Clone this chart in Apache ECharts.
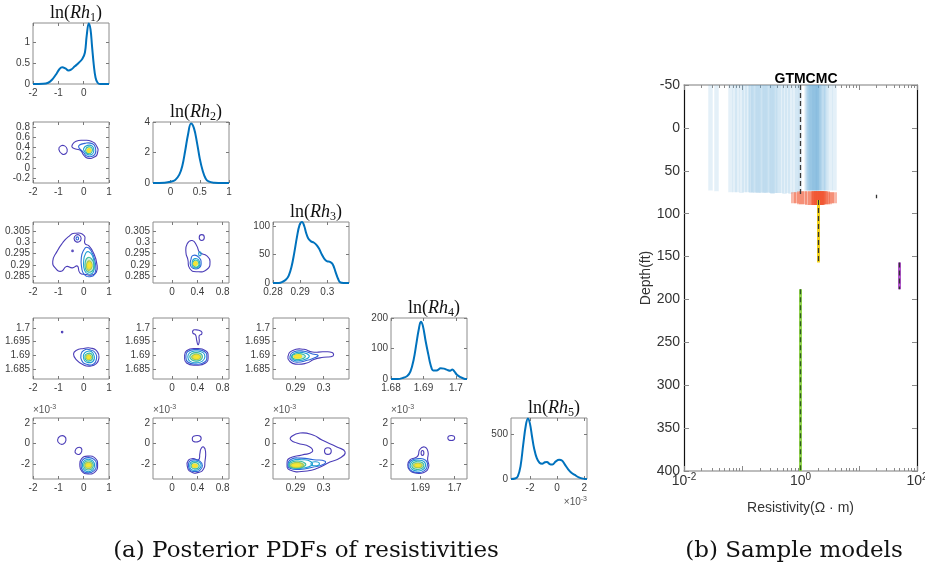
<!DOCTYPE html>
<html>
<head>
<meta charset="utf-8">
<script src="https://cdn.jsdelivr.net/npm/echarts@6/dist/echarts.min.js"></script>
<style>
  html, body { margin: 0; background: #fff; }
  #chart { width: 925px; height: 576px; }
</style>
</head>
<body>
<div id="chart"></div>
<script>
// ---- marginal posteriors (diagonal) ----
const pdfRh1 = [[-2,0],[-1.6,0.005],[-1.4,0.03],[-1.25,0.1],[-1.1,0.22],[-0.95,0.36],[-0.85,0.4],[-0.72,0.37],[-0.6,0.32],[-0.5,0.34],[-0.35,0.42],[-0.2,0.5],[-0.05,0.6],[0.05,0.75],[0.12,1.15],[0.2,1.44],[0.27,1.3],[0.33,0.9],[0.4,0.45],[0.47,0.15],[0.55,0.03],[0.65,0],[1,0]]
const pdfRh2 = [[-0.3,0],[-0.1,0.02],[0,0.08],[0.08,0.2],[0.15,0.55],[0.2,1.1],[0.25,2.1],[0.3,3.2],[0.35,3.9],[0.4,3.6],[0.45,2.7],[0.5,1.6],[0.55,0.8],[0.6,0.3],[0.65,0.1],[0.75,0.02],[0.9,0],[1,0]]
const pdfRh3 = [[0.28,0],[0.2822,0],[0.2835,2],[0.2848,6],[0.2858,13],[0.2868,28],[0.2878,52],[0.2888,80],[0.2898,102],[0.2907,107],[0.2915,100],[0.2922,88],[0.293,78],[0.294,73],[0.295,71],[0.296,67],[0.297,60],[0.298,50],[0.299,42],[0.3,38],[0.301,37],[0.302,33],[0.303,20],[0.304,7],[0.3048,1],[0.306,0],[0.308,0]]
const pdfRh4 = [[1.68,0],[1.682,0],[1.6835,3],[1.685,10],[1.686,25],[1.687,65],[1.6878,115],[1.6885,160],[1.6892,188],[1.6898,175],[1.6907,122],[1.6915,80],[1.6922,46],[1.693,28],[1.694,28],[1.6953,35],[1.6963,34],[1.6973,30],[1.6982,27],[1.6989,31],[1.6995,25],[1.7003,14],[1.7014,6],[1.7025,1],[1.7034,0]]
const pdfRh5 = [[-3.4,0],[-3.1,5],[-2.9,30],[-2.7,140],[-2.5,380],[-2.3,600],[-2.15,670],[-2.0,610],[-1.85,470],[-1.7,340],[-1.5,230],[-1.3,180],[-1.1,170],[-0.9,185],[-0.75,188],[-0.55,165],[-0.35,160],[-0.1,195],[0.15,212],[0.35,205],[0.55,165],[0.8,110],[1.05,70],[1.3,45],[1.6,18],[1.9,4],[2.2,0]]

// ---- pairwise contours: [level, [[x,y], ...]] ----
const ctr21 = [
  [0, [[-0.98,0.36],[-0.9,0.43],[-0.75,0.43],[-0.65,0.36],[-0.7,0.28],[-0.85,0.27]]],
  [0, [[-0.45,0.45],[-0.3,0.52],[0,0.54],[0.3,0.52],[0.52,0.42],[0.55,0.3],[0.42,0.21],[0.15,0.19],[0.0,0.25],[-0.12,0.34],[-0.32,0.37],[-0.45,0.4]]],
  [1, [[-0.2,0.42],[0.05,0.48],[0.35,0.47],[0.47,0.38],[0.45,0.27],[0.3,0.22],[0.12,0.23],[0.0,0.3]]],
  [2, [[0.0,0.38],[0.15,0.44],[0.35,0.42],[0.4,0.33],[0.32,0.26],[0.15,0.26],[0.05,0.31]]],
  [3, [[0.08,0.36],[0.18,0.41],[0.32,0.39],[0.34,0.33],[0.26,0.28],[0.13,0.29]]],
  [5, [[0.13,0.35],[0.2,0.38],[0.28,0.36],[0.28,0.32],[0.2,0.3],[0.14,0.32]]]
]
const ctr31 = [
  [0, [[-1.22,0.2916],[-1.05,0.296],[-0.83,0.2998],[-0.6,0.3025],[-0.37,0.304],[0.02,0.303],[0.05,0.2995],[0.2,0.2985],[0.38,0.2955],[0.52,0.2905],[0.5,0.2868],[0.3,0.2855],[0.1,0.2858],[-0.15,0.2865],[-0.25,0.2895],[-0.45,0.2887],[-0.68,0.2893],[-0.88,0.2872],[-1.1,0.2884]]],
  [0, [[-0.38,0.3017],[-0.3,0.3032],[-0.17,0.3032],[-0.1,0.3017],[-0.17,0.3003],[-0.3,0.3003]]],
  [1, [[-0.3,0.3017],[-0.25,0.3024],[-0.2,0.3017],[-0.25,0.301]]],
  [0, [[-0.47,0.2962],[-0.44,0.2966],[-0.41,0.2962],[-0.44,0.2958]]],
  [1, [[-0.09,0.2935],[0.0,0.2965],[0.12,0.2978],[0.28,0.2965],[0.45,0.2915],[0.45,0.2865],[0.25,0.2848],[0.02,0.2858],[-0.08,0.289]]],
  [2, [[0.0,0.2915],[0.08,0.2952],[0.2,0.2958],[0.35,0.294],[0.42,0.2895],[0.36,0.2865],[0.18,0.286],[0.04,0.2875]]],
  [3, [[0.06,0.291],[0.15,0.2932],[0.3,0.2928],[0.4,0.2898],[0.33,0.2872],[0.15,0.287],[0.07,0.2885]]],
  [4, [[0.12,0.2905],[0.2,0.2918],[0.3,0.2912],[0.33,0.2893],[0.25,0.2878],[0.14,0.288]]],
  [5, [[0.16,0.2902],[0.22,0.2912],[0.29,0.2905],[0.29,0.2892],[0.22,0.2885],[0.16,0.289]]]
]
const ctr32 = [
  [0, [[0.24,0.2994],[0.32,0.3008],[0.39,0.2985],[0.44,0.2955],[0.55,0.294],[0.6,0.2916],[0.55,0.288],[0.39,0.287],[0.28,0.2884],[0.25,0.2925],[0.22,0.2955]]],
  [0, [[0.43,0.3021],[0.47,0.3034],[0.51,0.3021],[0.47,0.3008]]],
  [1, [[0.3,0.2925],[0.33,0.2942],[0.42,0.2935],[0.46,0.2905],[0.42,0.2885],[0.33,0.2885],[0.29,0.29]]],
  [2, [[0.42,0.2948],[0.44,0.2958],[0.46,0.2948],[0.44,0.294]]],
  [2, [[0.32,0.2915],[0.36,0.2928],[0.42,0.2922],[0.44,0.29],[0.4,0.2888],[0.33,0.2892]]],
  [3, [[0.33,0.291],[0.37,0.2922],[0.42,0.2912],[0.41,0.2893],[0.35,0.2893]]],
  [5, [[0.34,0.2907],[0.37,0.2915],[0.4,0.2907],[0.38,0.2898],[0.35,0.2899]]]
]
const ctr41 = [
  [0, [[-0.88,1.6985],[-0.85,1.6988],[-0.82,1.6985],[-0.85,1.6982]]],
  [0, [[-0.4,1.6905],[-0.3,1.6918],[0,1.6925],[0.3,1.6926],[0.55,1.6912],[0.6,1.689],[0.5,1.687],[0.25,1.6861],[0,1.6865],[-0.3,1.6885]]],
  [1, [[-0.1,1.6905],[0.0,1.6918],[0.25,1.692],[0.48,1.6906],[0.5,1.6885],[0.38,1.6868],[0.1,1.6868],[-0.08,1.6882]]],
  [2, [[0.0,1.6903],[0.1,1.6913],[0.3,1.6914],[0.42,1.6896],[0.35,1.6877],[0.1,1.6876],[0.0,1.6888]]],
  [3, [[0.05,1.6898],[0.15,1.6907],[0.3,1.6906],[0.36,1.6893],[0.28,1.6881],[0.1,1.6882]]],
  [4, [[0.1,1.6896],[0.18,1.6902],[0.28,1.6899],[0.3,1.689],[0.22,1.6885],[0.12,1.6887]]],
  [5, [[0.13,1.6894],[0.2,1.6899],[0.26,1.6895],[0.25,1.6889],[0.18,1.6888]]]
]
const ctr42 = [
  [0, [[0.33,1.699],[0.36,1.6993],[0.46,1.6988],[0.47,1.6978],[0.43,1.6972],[0.43,1.695],[0.41,1.6939],[0.39,1.6955],[0.37,1.6975],[0.33,1.6981]]],
  [0, [[0.2,1.6895],[0.23,1.6917],[0.38,1.6925],[0.53,1.6917],[0.57,1.6895],[0.53,1.6872],[0.38,1.6864],[0.23,1.6872]]],
  [1, [[0.22,1.6895],[0.25,1.6914],[0.38,1.6921],[0.51,1.6914],[0.55,1.6895],[0.51,1.6875],[0.38,1.6868],[0.25,1.6876]]],
  [2, [[0.25,1.6895],[0.28,1.691],[0.38,1.6916],[0.49,1.691],[0.52,1.6895],[0.48,1.6879],[0.38,1.6873],[0.28,1.6879]]],
  [3, [[0.28,1.6895],[0.31,1.6906],[0.39,1.691],[0.46,1.6905],[0.48,1.6894],[0.45,1.6883],[0.38,1.6879],[0.31,1.6884]]],
  [4, [[0.31,1.6895],[0.35,1.6903],[0.4,1.6904],[0.45,1.6898],[0.44,1.6888],[0.38,1.6885],[0.33,1.6888]]],
  [5, [[0.34,1.6895],[0.38,1.69],[0.43,1.6897],[0.42,1.689],[0.37,1.6889]]]
]
const ctr43 = [
  [0, [[0.2873,1.6895],[0.289,1.6918],[0.293,1.6922],[0.296,1.6912],[0.3,1.6913],[0.303,1.691],[0.3033,1.6898],[0.3,1.6893],[0.2965,1.6885],[0.294,1.6872],[0.29,1.6868],[0.288,1.6878]]],
  [1, [[0.288,1.6895],[0.2895,1.6913],[0.293,1.6915],[0.296,1.6905],[0.298,1.69],[0.297,1.6892],[0.2945,1.6883],[0.2905,1.6875],[0.2885,1.6883]]],
  [2, [[0.2885,1.6896],[0.2898,1.6909],[0.2925,1.691],[0.2948,1.69],[0.294,1.6888],[0.2905,1.688],[0.289,1.6886]]],
  [3, [[0.2888,1.6897],[0.29,1.6905],[0.2922,1.6905],[0.2935,1.6897],[0.2922,1.6887],[0.2898,1.6886]]],
  [5, [[0.2895,1.6897],[0.2905,1.6902],[0.2918,1.6901],[0.292,1.6893],[0.2905,1.689],[0.2896,1.6892]]]
]
const ctr51 = [
  [0, [[-1.03,0.33],[-0.92,0.72],[-0.75,0.68],[-0.7,0.3],[-0.8,-0.05],[-0.95,-0.02]]],
  [0, [[-0.34,-0.75],[-0.25,-0.42],[-0.1,-0.45],[-0.08,-0.8],[-0.18,-1.08],[-0.3,-1.0]]],
  [0, [[-0.15,-2.15],[-0.08,-1.5],[0.18,-1.25],[0.45,-1.45],[0.55,-2.1],[0.45,-2.8],[0.18,-3.0],[-0.07,-2.75]]],
  [1, [[-0.1,-2.15],[-0.03,-1.6],[0.18,-1.4],[0.42,-1.6],[0.5,-2.15],[0.4,-2.7],[0.18,-2.9],[-0.03,-2.7]]],
  [2, [[-0.05,-2.15],[0.02,-1.72],[0.18,-1.55],[0.36,-1.72],[0.43,-2.15],[0.36,-2.6],[0.18,-2.78],[0.02,-2.6]]],
  [3, [[0.0,-2.15],[0.06,-1.82],[0.19,-1.7],[0.32,-1.82],[0.38,-2.15],[0.32,-2.5],[0.19,-2.62],[0.06,-2.5]]],
  [4, [[0.05,-2.15],[0.1,-1.92],[0.2,-1.85],[0.28,-1.92],[0.33,-2.15],[0.28,-2.4],[0.2,-2.46],[0.1,-2.4]]],
  [5, [[0.1,-2.15],[0.2,-2.0],[0.28,-2.15],[0.2,-2.3]]]
]
const ctr52 = [
  [0, [[0.32,0.43],[0.34,0.7],[0.43,0.75],[0.46,0.45],[0.42,0.18],[0.34,0.18]]],
  [0, [[0.24,-2.2],[0.26,-1.65],[0.33,-1.5],[0.42,-1.6],[0.44,-1.0],[0.46,-0.5],[0.5,-0.35],[0.53,-0.8],[0.52,-1.8],[0.5,-2.5],[0.42,-2.85],[0.3,-2.8]]],
  [1, [[0.26,-2.2],[0.28,-1.75],[0.35,-1.62],[0.44,-1.75],[0.48,-2.2],[0.44,-2.65],[0.36,-2.75],[0.29,-2.65]]],
  [2, [[0.28,-2.2],[0.3,-1.85],[0.36,-1.75],[0.43,-1.87],[0.46,-2.2],[0.42,-2.55],[0.36,-2.63],[0.3,-2.55]]],
  [3, [[0.3,-2.2],[0.32,-1.95],[0.36,-1.88],[0.41,-1.97],[0.43,-2.2],[0.41,-2.45],[0.36,-2.5],[0.32,-2.43]]],
  [5, [[0.32,-2.2],[0.36,-2.03],[0.4,-2.2],[0.36,-2.36]]]
]
const ctr53 = [
  [0, [[0.2884,0.63],[0.2916,1.02],[0.2962,0.83],[0.2994,0.33],[0.3047,-0.35],[0.3076,-0.84],[0.3058,-1.44],[0.3022,-1.83],[0.298,-2.42],[0.2941,-2.71],[0.288,-2.62],[0.287,-1.93],[0.288,-1.44],[0.2923,-1.14],[0.2959,-0.84],[0.2951,-0.35],[0.2905,0.04],[0.2884,0.33]]],
  [0, [[0.3003,-0.75],[0.3015,-0.42],[0.3027,-0.75],[0.3015,-1.08]]],
  [1, [[0.2873,-2.1],[0.2885,-1.55],[0.292,-1.45],[0.2965,-1.6],[0.3005,-1.75],[0.3,-2.05],[0.296,-2.35],[0.2915,-2.55],[0.288,-2.45]]],
  [2, [[0.2876,-2.1],[0.2888,-1.68],[0.2925,-1.6],[0.2955,-1.8],[0.2958,-2.15],[0.2925,-2.42],[0.2888,-2.4]]],
  [2, [[0.2955,-2.0],[0.297,-1.8],[0.2985,-2.0],[0.297,-2.2]]],
  [3, [[0.2877,-2.12],[0.289,-1.8],[0.2915,-1.75],[0.2934,-1.95],[0.2934,-2.2],[0.2912,-2.42],[0.2887,-2.38]]],
  [4, [[0.2882,-2.13],[0.2893,-1.92],[0.2912,-1.88],[0.2927,-2.05],[0.2925,-2.25],[0.291,-2.35],[0.289,-2.32]]],
  [5, [[0.2888,-2.13],[0.2903,-2.0],[0.2918,-2.08],[0.2914,-2.25],[0.2897,-2.27]]]
]
const ctr54 = [
  [0, [[1.6863,-2.1],[1.687,-1.6],[1.6885,-1.4],[1.6893,-1.2],[1.6898,-0.6],[1.6912,-0.35],[1.6922,-0.8],[1.6921,-1.6],[1.6924,-2.3],[1.691,-2.85],[1.6885,-2.9],[1.6868,-2.6]]],
  [0, [[1.6902,-0.94],[1.6906,-0.7],[1.691,-0.94],[1.6906,-1.18]]],
  [0, [[1.698,0.53],[1.699,0.78],[1.7,0.53],[1.699,0.28]]],
  [1, [[1.6866,-2.15],[1.6872,-1.7],[1.6893,-1.5],[1.6915,-1.65],[1.692,-2.2],[1.6908,-2.75],[1.6888,-2.85],[1.687,-2.6]]],
  [2, [[1.687,-2.15],[1.6877,-1.75],[1.6893,-1.65],[1.691,-1.78],[1.6915,-2.2],[1.6905,-2.62],[1.6888,-2.7],[1.6874,-2.5]]],
  [3, [[1.6875,-2.15],[1.688,-1.88],[1.6893,-1.8],[1.6906,-1.9],[1.691,-2.2],[1.6902,-2.5],[1.6888,-2.55],[1.6878,-2.42]]],
  [4, [[1.688,-2.15],[1.6893,-1.95],[1.6905,-2.15],[1.6893,-2.38]]],
  [5, [[1.6885,-2.15],[1.6893,-2.03],[1.69,-2.15],[1.6893,-2.28]]]
]

// ---- axes of the corner plot ----
const diagRange = [[-2, 1], [-0.3, 1], [0.28, 0.308], [1.68, 1.7034], [-3.4, 2.2]]
const diagYMax = [1.45, 4, 107, 200, 675]
const diagXTicks = [[-2, -1, 0], [0, 0.5, 1], [0.28, 0.29, 0.3], [1.68, 1.69, 1.7], [-2, 0, 2]]
const diagYTicks = [[0, 0.5, 1], [0, 2, 4], [0, 50, 100], [0, 100, 200], [0, 500]]
const offRange = [[-2, 1], [-0.3, 0.9], [0.282, 0.309], [1.6814, 1.7036], [-3.5, 2.5]]
const offXTicks = [[-2, -1, 0, 1], [0, 0.4, 0.8], [0.29, 0.3], [1.69, 1.7]]
const offYTicks = [null, [-0.2, 0, 0.2, 0.4, 0.6, 0.8], [0.285, 0.29, 0.295, 0.3, 0.305], [1.685, 1.69, 1.695, 1.7], [-2, 0, 2]]

// ---- sample models (right panel): [resistivity, layer top, layer base] ----
const layer1Samples = [
  [0.028,-50,73],[0.036,-50,74],[0.062,-50,75],[0.072,-50,75],[0.083,-50,75],[0.095,-50,76],[0.108,-50,75],[0.12,-50,75],
  [0.135,-50,75],[0.145,-50,76],[0.155,-50,75],[0.165,-50,76],[0.18,-50,75],[0.19,-50,76],[0.205,-50,76],[0.22,-50,75],
  [0.235,-50,76],[0.25,-50,76],[0.27,-50,75],[0.29,-50,76],[0.31,-50,76],[0.33,-50,77],[0.355,-50,76],[0.38,-50,76],
  [0.42,-50,76],[0.47,-50,76],[0.53,-50,77],[0.6,-50,76],[0.68,-50,77],[0.77,-50,76],[0.87,-50,75],[0.97,-50,74],
  [1.27,-50,73],[1.3,-50,73],[1.35,-50,73],[1.4,-50,73],[1.45,-50,73],[1.5,-50,73],[1.55,-50,73],[1.6,-50,73],
  [1.65,-50,73],[1.7,-50,73],[1.75,-50,73],[1.8,-50,73],[1.85,-50,73],[1.9,-50,73],[1.95,-50,73],[2.0,-50,73],
  [2.05,-50,73],[2.1,-50,73],[2.2,-50,73],[2.35,-50,73],[2.5,-50,73],[2.65,-50,73],[2.8,-50,73],[3.3,-50,73],[3.8,-50,73]
]
const layer2Samples = [
  [0.75,75,88],[0.85,75,88],[0.95,74,89],[1.05,74,89],[1.15,74,89],[1.3,74,90],[1.45,74,90],[1.6,74,90],
  [1.7,74,90],[1.8,74,90],[1.9,74,90],[2.0,74,90],[2.1,74,90],[2.2,74,90],[2.3,74,90],[2.4,74,90],
  [1.65,74,90],[1.75,74,90],[1.85,74,90],[1.95,74,90],[2.05,74,90],[2.15,74,90],[2.25,74,90],[2.5,74,89],
  [2.35,74,89],[2.55,74,89],[2.7,74,89],[2.9,74,89],[3.1,75,89],[3.4,75,88],[3.8,75,88]
]
const modelRes = [1, 2.03, 20, 49, 1]
const modelTop = [-50, 84, 78, 157, 188]
const modelBase = [78, 157, 82, 188, 400]
const modelFill = [null, '#f3d21c', null, '#b256cc', '#92d44f']
const modelDash = ['#3a3a3a', '#333333', '#333333', '#333333', '#2f5a1f']

const depthLabelStep = 50
const logLabelValues = [0.01, 1, 100]
const logDecades = [0.01, 0.1, 1, 10, 100]
const logMantissa = [2, 3, 4, 5, 6, 7, 8, 9]

// ---- layout ----
const colLeft = [33, 153, 273, 391, 511]
const rowTop = [23, 122, 222, 318, 418]
const cellW = 76, cellH = 61

const levelColor = ['#4b3db8', '#2e67d8', '#1ea0d2', '#3bbb9c', '#a9c94d', '#f2e32a']
const levelFill = ['none', 'none', 'none', 'rgba(110,200,160,0.35)', 'rgba(195,212,85,0.75)', '#f6e53a']

const pdfs = [pdfRh1, pdfRh2, pdfRh3, pdfRh4, pdfRh5]
const contours = { '1-0': ctr21, '2-0': ctr31, '2-1': ctr32, '3-0': ctr41, '3-1': ctr42, '3-2': ctr43, '4-0': ctr51, '4-1': ctr52, '4-2': ctr53, '4-3': ctr54 }

const sans = 'Liberation Sans, Arial, Helvetica, sans-serif'
const serif = 'Liberation Serif, DejaVu Serif, serif'
const capSerif = 'DejaVu Serif, Liberation Serif, serif'
const tickColor = '#7a7a7a'
const labelStyle = { fontFamily: sans, fontSize: 10, color: '#3c3c3c' }

const grids = [], xAxes = [], yAxes = [], series = [], titles = []

function addCornerAxes(gi, xr, xt, yr, yt, xName, yName) {
  const xi = xAxes.length, yi = yAxes.length
  const tick = (vals) => ({ inside: true, length: 3, customValues: vals, lineStyle: { color: tickColor } })
  const sciRich = { t: { fontSize: 10, color: '#555', fontFamily: sans }, e: { fontSize: 7, color: '#555', fontFamily: sans, padding: [0, 0, 6, 0] } }
  xAxes.push({
    type: 'value', gridIndex: gi, position: 'bottom', min: xr[0], max: xr[1],
    axisLine: { show: false, onZero: false }, splitLine: { show: false },
    axisTick: tick(xt),
    axisLabel: Object.assign({ customValues: xt, margin: 4 }, labelStyle),
    name: xName || '', nameLocation: 'end', nameGap: 0,
    nameTextStyle: { align: 'right', verticalAlign: 'top', padding: [17, 0, 0, 0], rich: sciRich }
  })
  xAxes.push({
    type: 'value', gridIndex: gi, position: 'top', min: xr[0], max: xr[1],
    axisLine: { show: false, onZero: false }, splitLine: { show: false }, axisLabel: { show: false }, axisTick: tick(xt)
  })
  yAxes.push({
    type: 'value', gridIndex: gi, position: 'left', min: yr[0], max: yr[1],
    axisLine: { show: false, onZero: false }, splitLine: { show: false },
    axisTick: tick(yt),
    axisLabel: Object.assign({ customValues: yt, margin: 3 }, labelStyle),
    name: yName || '', nameLocation: 'end', nameGap: 1,
    nameTextStyle: { align: 'left', verticalAlign: 'bottom', rich: sciRich }
  })
  yAxes.push({
    type: 'value', gridIndex: gi, position: 'right', min: yr[0], max: yr[1],
    axisLine: { show: false, onZero: false }, splitLine: { show: false }, axisLabel: { show: false }, axisTick: tick(yt)
  })
  return [xi, yi]
}

function contourSeries(list, xi, yi) {
  return {
    type: 'custom', xAxisIndex: xi, yAxisIndex: yi, clip: true, silent: true,
    data: list.map((c, k) => [c[1][0][0], c[1][0][1], k]),
    renderItem: function (params, api) {
      const c = list[api.value(2)]
      const pts = c[1].map(p => api.coord(p))
      return {
        type: 'polygon',
        shape: { points: pts, smooth: 0.55 },
        style: { fill: levelFill[c[0]], stroke: levelColor[c[0]], lineWidth: 1.1 }
      }
    }
  }
}

const sciName = '{t|×10}{e|-3}'

for (let i = 0; i < 5; i++) {
  for (let j = 0; j <= i; j++) {
    const gi = grids.length
    grids.push({ left: colLeft[j], top: rowTop[i], width: cellW, height: cellH, show: true, borderColor: '#8c8c8c', borderWidth: 1, backgroundColor: '#fff', outerBoundsMode: 'none' })
    if (i === j) {
      const [xi, yi] = addCornerAxes(gi, diagRange[j], diagXTicks[j], [0, diagYMax[j]], diagYTicks[j], j === 4 ? sciName : '', '')
      series.push({
        type: 'line', xAxisIndex: xi, yAxisIndex: yi, data: pdfs[j], smooth: 0.4, showSymbol: false, silent: true,
        lineStyle: { color: '#0072BD', width: 2 }
      })
      titles.push({
        text: '{n|ln(}{r|Rh}{s|' + (j + 1) + '}{n|)}',
        left: colLeft[j] + cellW / 2, top: rowTop[i] - 25, textAlign: 'center',
        textStyle: {
          fontWeight: 'normal',
          rich: {
            n: { fontFamily: serif, fontSize: 18, fontWeight: 'normal', color: '#111', lineHeight: 21 },
            r: { fontFamily: serif, fontSize: 18, fontWeight: 'normal', fontStyle: 'italic', color: '#111', lineHeight: 21 },
            s: { fontFamily: serif, fontSize: 12, fontWeight: 'normal', color: '#111', verticalAlign: 'bottom', lineHeight: 14, padding: [6, 0, 0, 0] }
          }
        }
      })
    } else {
      const [xi, yi] = addCornerAxes(gi, offRange[j], offXTicks[j], offRange[i], offYTicks[i], '', i === 4 ? sciName : '')
      series.push(contourSeries(contours[i + '-' + j], xi, yi))
    }
  }
}

// ---- right panel: sample models ----
const rg = grids.length
grids.push({ left: 684, top: 85, width: 233, height: 386, show: false, outerBoundsMode: 'none' })
const minorTicks = []
logDecades.slice(0, -1).forEach(d => logMantissa.forEach(m => minorTicks.push(+(d * m).toPrecision(3))))
const logFmt = v => '{b|10}{s|' + Math.round(Math.log10(v)) + '}'
const rxBase = xAxes.length
function logAxis(pos, minor, withLabel) {
  return {
    type: 'log', logBase: 10, gridIndex: rg, position: pos, min: 0.01, max: 100,
    axisLine: { show: !minor, onZero: false, lineStyle: { color: '#a8a8a8', width: 1.5 } },
    splitLine: { show: false }, minorTick: { show: false },
    axisTick: { inside: true, length: minor ? 3 : 5, customValues: minor ? minorTicks : logDecades, lineStyle: { color: '#8a8a8a' } },
    axisLabel: withLabel ? {
      customValues: logLabelValues, margin: 1, formatter: logFmt,
      rich: { b: { fontFamily: sans, fontSize: 14, color: '#333' }, s: { fontFamily: sans, fontSize: 10, color: '#333', padding: [0, 0, 9, 0] } }
    } : { show: false },
    name: withLabel ? 'Resistivity(Ω · m)' : '', nameLocation: 'middle', nameGap: 30,
    nameTextStyle: { fontFamily: sans, fontSize: 14, color: '#333' }
  }
}
xAxes.push(logAxis('bottom', false, true), logAxis('bottom', true, false), logAxis('top', false, false), logAxis('top', true, false))
const ryBase = yAxes.length
function depthAxis(pos, withLabel) {
  return {
    type: 'value', gridIndex: rg, position: pos, inverse: true, min: -50, max: 400, interval: depthLabelStep,
    axisLine: { show: true, onZero: false, lineStyle: { color: '#111', width: 1.2 } },
    splitLine: { show: false },
    axisTick: { inside: true, length: 5, lineStyle: { color: '#8a8a8a' } },
    axisLabel: withLabel ? { fontFamily: sans, fontSize: 14, color: '#333', margin: 4 } : { show: false },
    name: withLabel ? 'Depth(ft)' : '', nameLocation: 'middle', nameGap: 30, nameRotate: 90,
    nameTextStyle: { fontFamily: sans, fontSize: 14, color: '#333' }
  }
}
yAxes.push(depthAxis('left', true), depthAxis('right', false))

series.push({
  type: 'lines', coordinateSystem: 'cartesian2d', xAxisIndex: rxBase, yAxisIndex: ryBase, silent: true, z: 1,
  data: layer1Samples.map(s => ({ coords: [[s[0], s[1]], [s[0], s[2]]] })),
  lineStyle: { color: 'rgba(92,166,214,0.17)', width: 4.5, opacity: 1 }
})
series.push({
  type: 'lines', coordinateSystem: 'cartesian2d', xAxisIndex: rxBase, yAxisIndex: ryBase, silent: true, z: 2,
  data: layer2Samples.map(s => ({ coords: [[s[0], s[1]], [s[0], s[2]]] })),
  lineStyle: { color: 'rgba(240,86,50,0.42)', width: 5, opacity: 1 }
})
series.push({
  type: 'lines', coordinateSystem: 'cartesian2d', xAxisIndex: rxBase, yAxisIndex: ryBase, silent: true, z: 3,
  data: modelRes.map((r, k) => ({ coords: [[r, modelTop[k]], [r, modelBase[k]]], lineStyle: { color: modelFill[k] || 'rgba(0,0,0,0)' } })),
  lineStyle: { width: 3, opacity: 1 }
})
series.push({
  type: 'lines', coordinateSystem: 'cartesian2d', xAxisIndex: rxBase, yAxisIndex: ryBase, silent: true, z: 4,
  data: modelRes.map((r, k) => ({ coords: [[r, modelTop[k]], [r, modelBase[k]]], lineStyle: { color: modelDash[k] } })),
  lineStyle: { width: 1.3, type: [5, 3], opacity: 1 }
})

titles.push({ text: 'GTMCMC', left: 801, top: 67, textAlign: 'center', textStyle: { fontFamily: sans, fontSize: 14, fontWeight: 'bold', color: '#000' } })
titles.push({ text: '(a) Posterior PDFs of resistivities', left: 301, top: 535, textAlign: 'center', textStyle: { fontFamily: capSerif, fontSize: 23, fontWeight: 'normal', color: '#111' } })
titles.push({ text: '(b) Sample models', left: 789, top: 535, textAlign: 'center', textStyle: { fontFamily: capSerif, fontSize: 23, fontWeight: 'normal', color: '#111' } })

const chart = echarts.init(document.getElementById('chart'))
chart.setOption({
  backgroundColor: '#fff',
  animation: false,
  title: titles,
  grid: grids,
  xAxis: xAxes,
  yAxis: yAxes,
  series: series
})
</script>
</body>
</html>
